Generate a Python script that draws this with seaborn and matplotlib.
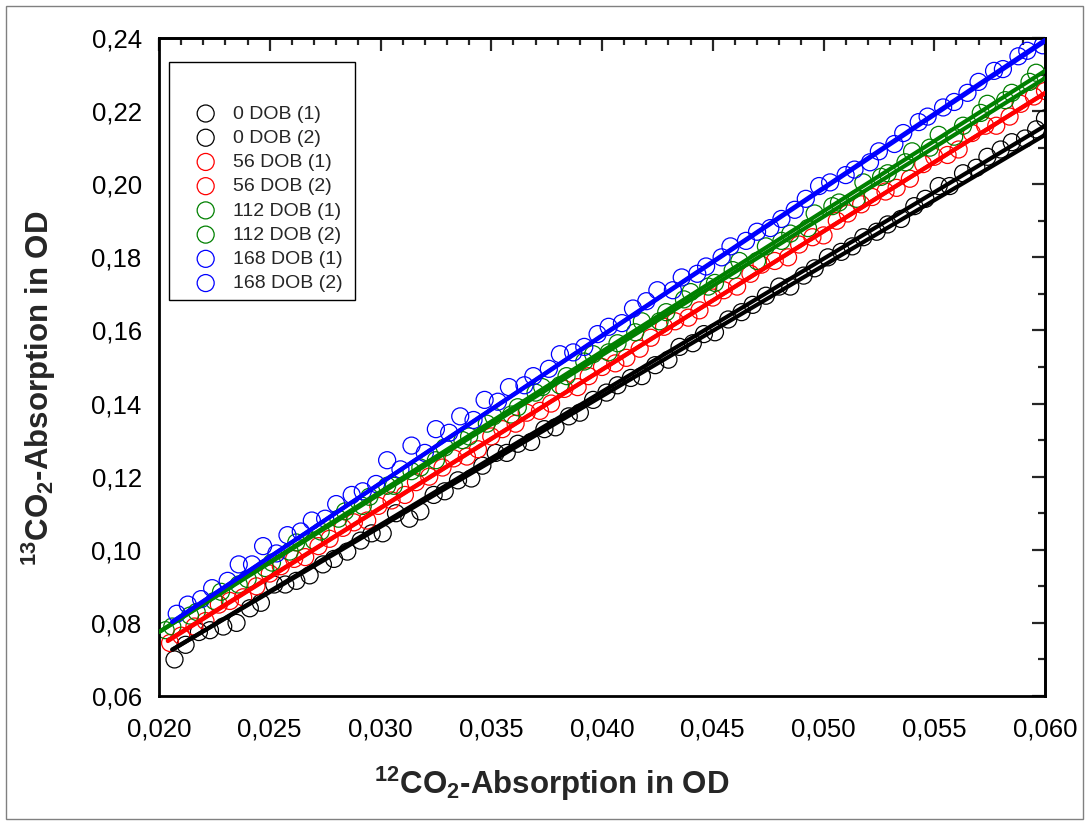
import matplotlib
matplotlib.use("Agg")
import matplotlib.pyplot as plt
import seaborn as sns
import numpy as np
from matplotlib.ticker import MultipleLocator, FuncFormatter
from matplotlib.patches import Rectangle
from matplotlib import font_manager

sns.set_theme(style="white")
names = {f.name for f in font_manager.fontManager.ttflist}
narrow = "Liberation Sans Narrow" if "Liberation Sans Narrow" in names else "Liberation Sans"
plt.rcParams["font.family"] = ["Liberation Sans", "DejaVu Sans"]
plt.rcParams["mathtext.fontset"] = "custom"
plt.rcParams["mathtext.rm"] = f"{narrow}:bold"
plt.rcParams["mathtext.it"] = f"{narrow}:bold"
plt.rcParams["mathtext.bf"] = f"{narrow}:bold"

# ---------------- data ----------------
labels = ["0 DOB (1)", "0 DOB (2)", "56 DOB (1)", "56 DOB (2)",
          "112 DOB (1)", "112 DOB (2)", "168 DOB (1)", "168 DOB (2)"]
colors = ["#000000", "#000000", "#ff0000", "#ff0000",
          "#008000", "#008000", "#0000ff", "#0000ff"]

x_0_1 = [0.0207,0.0218,0.0229,0.0241,0.0252,0.0262,0.0274,0.0285,0.0296,0.0307,0.0318,0.0329,0.0341,0.0352,0.0362,0.0374,0.0385,0.0396,0.0407,0.0418,0.0430,0.0441,0.0451,0.0463,0.0474,0.0485,0.0496,0.0508,0.0518,0.0529,0.0541,0.0552,0.0563,0.0574,0.0585,0.0596]
y_0_1 = [0.0700,0.0775,0.0790,0.0840,0.0905,0.0915,0.0960,0.0995,0.1045,0.1100,0.1105,0.1160,0.1195,0.1265,0.1290,0.1330,0.1365,0.1410,0.1450,0.1475,0.1520,0.1565,0.1595,0.1650,0.1695,0.1720,0.1770,0.1815,0.1855,0.1890,0.1940,0.1995,0.2030,0.2075,0.2115,0.2150]

x_0_2 = [0.0212,0.0223,0.0235,0.0246,0.0257,0.0268,0.0279,0.0291,0.0301,0.0313,0.0324,0.0335,0.0346,0.0357,0.0368,0.0379,0.0390,0.0402,0.0413,0.0424,0.0435,0.0446,0.0457,0.0468,0.0480,0.0491,0.0502,0.0513,0.0524,0.0535,0.0546,0.0557,0.0569,0.0580,0.0591,0.0600]
y_0_2 = [0.0740,0.0780,0.0800,0.0855,0.0905,0.0930,0.0975,0.1025,0.1045,0.1085,0.1150,0.1190,0.1230,0.1265,0.1295,0.1335,0.1375,0.1430,0.1470,0.1505,0.1555,0.1590,0.1630,0.1670,0.1720,0.1750,0.1800,0.1830,0.1870,0.1905,0.1960,0.1995,0.2045,0.2095,0.2125,0.2180]

x_56_1 = [0.0205,0.0216,0.0227,0.0238,0.0250,0.0261,0.0272,0.0283,0.0294,0.0305,0.0316,0.0328,0.0339,0.0350,0.0361,0.0372,0.0383,0.0394,0.0406,0.0417,0.0428,0.0439,0.0450,0.0461,0.0472,0.0484,0.0495,0.0506,0.0517,0.0528,0.0539,0.0550,0.0561,0.0573,0.0584,0.0595]
y_56_1 = [0.0745,0.0790,0.0850,0.0870,0.0935,0.0975,0.1010,0.1060,0.1080,0.1135,0.1185,0.1225,0.1255,0.1310,0.1345,0.1380,0.1440,0.1475,0.1510,0.1550,0.1610,0.1635,0.1690,0.1720,0.1780,0.1800,0.1855,0.1900,0.1945,0.1980,0.2015,0.2075,0.2095,0.2160,0.2185,0.2240]

x_56_2 = [0.0210,0.0221,0.0232,0.0244,0.0255,0.0266,0.0277,0.0288,0.0299,0.0311,0.0322,0.0333,0.0344,0.0355,0.0366,0.0377,0.0389,0.0400,0.0411,0.0422,0.0433,0.0444,0.0455,0.0467,0.0478,0.0489,0.0500,0.0511,0.0522,0.0533,0.0545,0.0556,0.0567,0.0578,0.0589,0.0600]
y_56_2 = [0.0765,0.0805,0.0860,0.0900,0.0955,0.0980,0.1030,0.1075,0.1120,0.1150,0.1200,0.1250,0.1275,0.1330,0.1375,0.1400,0.1445,0.1500,0.1525,0.1580,0.1625,0.1655,0.1710,0.1755,0.1790,0.1835,0.1860,0.1920,0.1965,0.1990,0.2055,0.2080,0.2140,0.2160,0.2220,0.2255]

x_112_1 = [0.0206,0.0217,0.0228,0.0240,0.0251,0.0262,0.0273,0.0284,0.0295,0.0306,0.0318,0.0329,0.0340,0.0351,0.0362,0.0373,0.0384,0.0396,0.0407,0.0418,0.0429,0.0440,0.0451,0.0462,0.0474,0.0485,0.0496,0.0507,0.0518,0.0529,0.0540,0.0552,0.0563,0.0574,0.0585,0.0596]
y_112_1 = [0.0790,0.0830,0.0885,0.0920,0.0965,0.1020,0.1050,0.1105,0.1145,0.1175,0.1225,0.1280,0.1310,0.1365,0.1390,0.1445,0.1475,0.1535,0.1565,0.1625,0.1650,0.1705,0.1730,0.1790,0.1830,0.1865,0.1920,0.1950,0.2005,0.2030,0.2090,0.2135,0.2160,0.2220,0.2250,0.2305]

x_112_2 = [0.0203,0.0214,0.0225,0.0236,0.0248,0.0259,0.0270,0.0281,0.0292,0.0303,0.0314,0.0325,0.0337,0.0348,0.0359,0.0370,0.0381,0.0392,0.0403,0.0415,0.0426,0.0437,0.0448,0.0459,0.0470,0.0481,0.0493,0.0504,0.0515,0.0526,0.0537,0.0548,0.0559,0.0571,0.0582,0.0593]
y_112_2 = [0.0780,0.0820,0.0860,0.0905,0.0950,0.0995,0.1025,0.1085,0.1120,0.1175,0.1215,0.1245,0.1300,0.1345,0.1370,0.1430,0.1450,0.1515,0.1540,0.1595,0.1625,0.1685,0.1720,0.1765,0.1790,0.1845,0.1880,0.1940,0.1960,0.2020,0.2060,0.2100,0.2130,0.2195,0.2230,0.2280]

x_168_1 = [0.0208,0.0219,0.0231,0.0242,0.0253,0.0264,0.0275,0.0287,0.0298,0.0309,0.0320,0.0331,0.0342,0.0353,0.0365,0.0376,0.0387,0.0398,0.0409,0.0420,0.0432,0.0443,0.0454,0.0465,0.0476,0.0487,0.0498,0.0510,0.0521,0.0532,0.0543,0.0554,0.0565,0.0577,0.0588,0.0599]
y_168_1 = [0.0825,0.0865,0.0915,0.0960,0.0990,0.1050,0.1085,0.1150,0.1180,0.1220,0.1265,0.1320,0.1355,0.1405,0.1450,0.1495,0.1540,0.1590,0.1620,0.1680,0.1710,0.1755,0.1800,0.1845,0.1880,0.1930,0.1995,0.2025,0.2060,0.2110,0.2170,0.2210,0.2250,0.2310,0.2350,0.2380]

x_168_2 = [0.0213,0.0224,0.0236,0.0247,0.0258,0.0269,0.0280,0.0292,0.0303,0.0314,0.0325,0.0336,0.0347,0.0358,0.0369,0.0381,0.0392,0.0403,0.0414,0.0425,0.0436,0.0447,0.0458,0.0470,0.0481,0.0492,0.0503,0.0514,0.0525,0.0536,0.0547,0.0559,0.0570,0.0581,0.0592]
y_168_2 = [0.0850,0.0895,0.0960,0.1010,0.1040,0.1080,0.1125,0.1160,0.1245,0.1285,0.1330,0.1365,0.1410,0.1445,0.1475,0.1535,0.1555,0.1610,0.1660,0.1710,0.1745,0.1775,0.1830,0.1870,0.1905,0.1960,0.2005,0.2040,0.2090,0.2140,0.2185,0.2225,0.2280,0.2315,0.2365]

# linear fit lines (slope, intercept) and x-range
fit_slope = [3.638, 3.573, 3.786, 3.780, 3.8375, 3.7875, 4.041, 4.030]
fit_intercept = [-0.0023, -0.0009, -0.0022, -0.0019, 0.00075, 0.00175, -0.0030, -0.0027]
fit_xstart = [0.0206, 0.0206, 0.0204, 0.0204, 0.0200, 0.0200, 0.0206, 0.0206]
fit_xend = [0.0600] * 8

xs = [x_0_1, x_0_2, x_56_1, x_56_2, x_112_1, x_112_2, x_168_1, x_168_2]
ys = [y_0_1, y_0_2, y_56_1, y_56_2, y_112_1, y_112_2, y_168_1, y_168_2]

x_ticks = [0.020, 0.025, 0.030, 0.035, 0.040, 0.045, 0.050, 0.055, 0.060]
y_ticks = [0.06, 0.08, 0.10, 0.12, 0.14, 0.16, 0.18, 0.20, 0.22, 0.24]

# ---------------- figure ----------------
W, H = 1089, 825
fig = plt.figure(figsize=(W / 100, H / 100), dpi=100)
L, R, T, B = 159, 1045, 38, 696
ax = fig.add_axes([L / W, 1 - B / H, (R - L) / W, (B - T) / H])
ax.set_facecolor("white")

for x, y, c, lab in zip(xs, ys, colors, labels):
    sns.scatterplot(x=x, y=y, ax=ax, marker="o", s=150, facecolors="none",
                    edgecolor=c, linewidth=0.9, label=lab, zorder=2)

for i in range(8):
    xx = np.array([fit_xstart[i], fit_xend[i]])
    yy = fit_slope[i] * xx + fit_intercept[i]
    sns.lineplot(x=xx, y=yy, ax=ax, color=colors[i], linewidth=3.0,
                 zorder=3, legend=False)

ax.set_xlim(0.020, 0.060)
ax.set_ylim(0.06, 0.24)
ax.set_xticks(x_ticks)
ax.set_yticks(y_ticks)
ax.xaxis.set_minor_locator(MultipleLocator(0.001))
ax.yaxis.set_minor_locator(MultipleLocator(0.01))
ax.xaxis.set_major_formatter(FuncFormatter(lambda v, p: f"{v:.3f}".replace(".", ",")))
ax.yaxis.set_major_formatter(FuncFormatter(lambda v, p: f"{v:.2f}".replace(".", ",")))

for sp in ax.spines.values():
    sp.set_visible(True)
    sp.set_linewidth(2.0)
    sp.set_color("black")

ax.tick_params(which="major", direction="out", length=9.5, width=1.6,
               labelsize=18.5, colors="black", pad=3)
ax.tick_params(which="minor", direction="out", length=5, width=1.6, colors="black")
ax.tick_params(axis="x", which="major", pad=6)

secx = ax.secondary_xaxis("top")
secx.set_xticks(x_ticks)
secx.xaxis.set_minor_locator(MultipleLocator(0.001))
secx.tick_params(which="major", direction="in", length=9.5, width=1.6, labeltop=False)
secx.tick_params(which="minor", direction="in", length=5, width=1.6)
secx.spines["top"].set_linewidth(2.0)
secy = ax.secondary_yaxis("right")
secy.set_yticks(y_ticks)
secy.yaxis.set_minor_locator(MultipleLocator(0.01))
secy.tick_params(which="major", direction="in", length=9.5, width=1.6, labelright=False)
secy.tick_params(which="minor", direction="in", length=5, width=1.6)
secy.spines["right"].set_linewidth(2.0)

ax.set_xlabel(r"$^{12}$CO$_2$-Absorption in OD", fontsize=22.5,
              fontfamily=narrow, fontweight="bold")
ax.set_ylabel(r"$^{13}$CO$_2$-Absorption in OD", fontsize=22.5,
              fontfamily=narrow, fontweight="bold")
ax.xaxis.set_label_coords((552 - L) / (R - L), (B - 765) / (B - T))
ax.yaxis.set_label_coords((58 - L) / (R - L), (B - 388) / (B - T))

# legend box
ax.add_patch(Rectangle(((169 - L) / (R - L), (B - 300) / (B - T)),
                       (355 - 169) / (R - L), (300 - 62) / (B - T),
                       transform=ax.transAxes, facecolor="white",
                       edgecolor="black", linewidth=1.0, zorder=4))
leg = ax.legend(loc="upper left",
                bbox_to_anchor=((194 - L) / (R - L), (B - 105) / (B - T)),
                frameon=False, fontsize=14, borderpad=0, handlelength=1.2,
                handletextpad=0.8, labelspacing=0.34, borderaxespad=0)
leg.set_zorder(5)

# outer frame
fig.add_artist(Rectangle((6 / W, 6 / H), (W - 12) / W, (H - 12) / H,
                         transform=fig.transFigure, fill=False,
                         edgecolor="#808080", linewidth=1.0))

fig.savefig("out.png", dpi=100)
